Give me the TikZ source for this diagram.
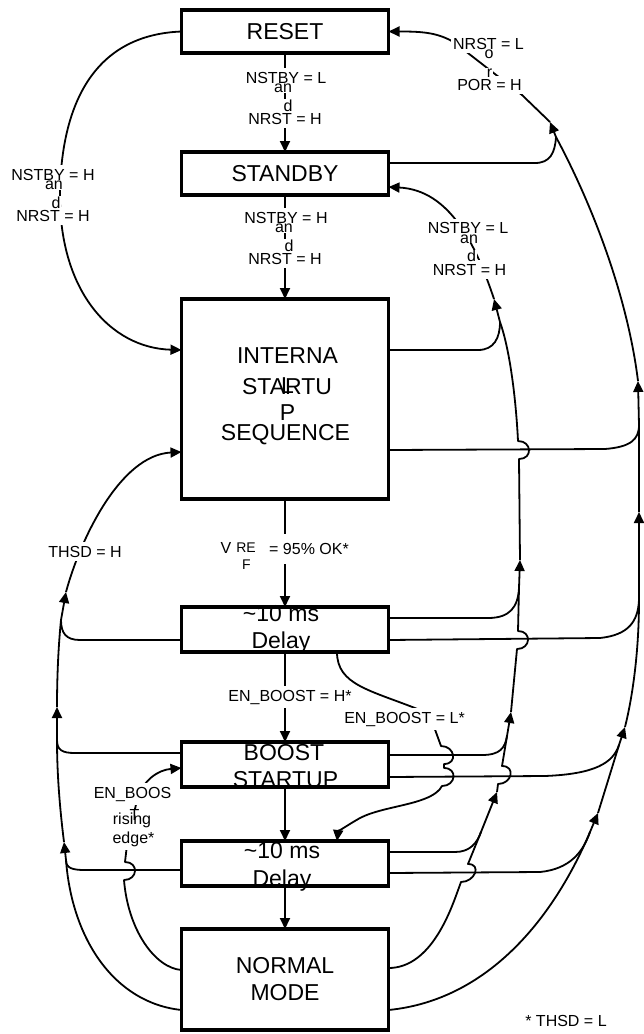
\documentclass[tikz,border=0pt]{standalone}
\usepackage{fontspec}
\setmainfont{Liberation Sans}
\usepackage{tikz}
\usetikzlibrary{arrows.meta,positioning}
\tikzset{
  estado/.style={
    draw,
    line width=3.2pt,
    outer sep=0pt,
    inner sep=0pt,
    minimum width=207pt,
    align=center,
    font=\fontsize{23}{27}\selectfont
  },
  rotulo/.style={
    anchor=base,
    inner sep=0pt,
    font=\fontsize{23}{27}\selectfont
  },
  cond/.style={
    anchor=base,
    fill=white,
    inner xsep=2pt,
    inner ysep=3.5pt,
    font=\fontsize{16}{19}\selectfont
  },
  frag/.style={
    anchor=base,
    fill=white,
    inner xsep=1pt,
    inner ysep=0pt,
    font=\fontsize{16}{19}\selectfont
  },
  wire/.style={
    line width=1.8pt,
    line join=round
  },
  arrow/.style={
    wire,
    -{Triangle[length=11pt,width=10pt]}
  }
}
\newcommand{\linehop}[4]{-- (#1,#2) .. controls (#1+14,#2) and (#3+14,#4) .. (#3,#4)}

\begin{document}
\begin{tikzpicture}[x=1pt,y=-1pt]
\useasboundingbox (0,0) rectangle (644,1034);
\node[estado,minimum height=43pt] (reset) at (285,31.5) {RESET};
\node[estado,minimum height=43pt,below=99pt of reset] (standby) {STANDBY};
\node[estado,minimum height=200pt,below=104pt of standby] (internal) {};
\node[estado,minimum height=45pt,below=108pt of internal] (delayA) {};
\node[estado,minimum height=45pt,below=90pt of delayA] (boost) {};
\node[estado,minimum height=45pt,below=54pt of boost] (delayB) {};
\node[estado,minimum height=101pt,below=43pt of delayB] (normal) {NORMAL\\MODE};

\node[rotulo] (intA) at (287.5,363) {INTERNA};
\node[rotulo] (intB) at (287,394) {STARTU};
\node[rotulo] (intL) at (287.5,393) {L};
\node[rotulo] (intP) at (287.5,420) {P};
\node[rotulo] (intC) at (285.5,440) {SEQUENCE};
\node[rotulo] (dAa) at (281,621) {\textasciitilde10 ms};
\node[rotulo] (dAb) at (281,648) {Delay};
\node[rotulo] (bsa) at (284,760) {BOOST};
\node[rotulo] (bsb) at (285.5,787) {STARTUP};
\node[rotulo] (dBa) at (282,858) {\textasciitilde10 ms};
\node[rotulo] (dBb) at (282,886) {Delay};

\coordinate (mA1) at (481,832);
\coordinate (tA1) at (497,792);
\coordinate (mA2) at (507,736);
\coordinate (tA2) at (511,712);
\coordinate (mA3) at (519,588);
\coordinate (tA3) at (520,560);
\coordinate (mA4) at (500,322);
\coordinate (tA4) at (494,299);
\coordinate (mB1) at (590,832);
\coordinate (tB1) at (598,813);
\coordinate (mB2) at (619,745);
\coordinate (tB2) at (625,727);
\coordinate (mB3) at (639,600);
\coordinate (tB3) at (639,512);
\coordinate (mB4) at (639,425);
\coordinate (tB4) at (638,381);
\coordinate (mB5) at (556,137);
\coordinate (tB5) at (550,122);
\coordinate (mC1) at (66,860);
\coordinate (tC1) at (64,842);
\coordinate (mC2) at (57,740);
\coordinate (tC2) at (57,707);
\coordinate (mC3) at (61,620);
\coordinate (tC3) at (66,592);

\draw[arrow] (reset) -- (standby);
\draw[arrow] (standby) -- (internal);
\draw[arrow] (internal) -- (delayA);
\draw[arrow] (delayA) -- (boost);
\draw[arrow] (boost) -- (delayB);
\draw[arrow] (delayB) -- (normal);
\draw[arrow] (reset.west) .. controls (90,35) and (62,110) .. (60,190) .. controls (58,290) and (110,348) .. (internal.west |- 0,350);

\draw[arrow] (normal.east |- 0,968) .. controls (428,968) and (448,918) .. (457,893) \linehop{461}{882}{468}{864} -- (mA1) -- (tA1);
\draw[wire] (delayB.east |- 0,852) -- (455,852) .. controls (470,852) and (477,843) .. (mA1);
\draw[arrow] (tA1) \linehop{498}{784}{502}{766} -- (mA2) -- (tA2);
\draw[wire] (boost.east |- 0,755) -- (482,755) .. controls (500,755) and (505,748) .. (mA2);
\draw[arrow] (tA2) \linehop{517}{649}{518}{631} -- (mA3) -- (tA3);
\draw[wire] (delayA.east |- 0,618) -- (488,618) .. controls (510,618) and (518,607) .. (mA3);
\draw[arrow] (tA3) \linehop{519}{459}{518}{441} .. controls (516,400) and (510,350) .. (mA4) -- (tA4);
\draw[wire] (internal.east |- 0,350) -- (478,350) .. controls (494,350) and (500,338) .. (mA4);
\draw[arrow] (tA4) .. controls (476,245) and (450,190) .. (standby.east |- 0,187);

\draw[arrow] (normal.east |- 0,1010) .. controls (490,1000) and (555,915) .. (mB1) -- (tB1);
\draw[wire] (delayB.east |- 0,873) -- (540,872) .. controls (570,869) and (583,852) .. (mB1);
\draw[arrow] (tB1) -- (mB2) -- (tB2);
\draw[wire] (boost.east |- 0,777) -- (545,776) .. controls (595,774) and (613,763) .. (mB2);
\draw[arrow] (tB2) .. controls (633,695) and (639,650) .. (mB3) -- (tB3);
\draw[wire] (delayA.east |- 0,640) -- (600,638) .. controls (628,635) and (638,622) .. (mB3);
\draw[arrow] (tB3) -- (mB4) -- (tB4);
\draw[wire] (internal.east |- 0,450) -- (605,449) .. controls (630,447) and (639,440) .. (mB4);
\draw[arrow] (tB4) .. controls (628,300) and (595,210) .. (mB5) -- (tB5);
\draw[wire] (standby.east |- 0,163) -- (535,163) .. controls (550,163) and (555,153) .. (mB5);
\draw[arrow] (tB5) -- (522,95) -- (455,43) .. controls (438,32) and (420,31.5) .. (reset.east);

\draw[arrow] (normal.west |- 0,1010) .. controls (115,1003) and (72,940) .. (mC1) -- (tC1);
\draw[wire] (delayB.west |- 0,870) -- (85,870) .. controls (72,870) and (66,868) .. (mC1);
\draw[arrow] (tC1) .. controls (60,810) and (57,775) .. (mC2) -- (tC2);
\draw[wire] (boost.west |- 0,753) -- (75,753) .. controls (62,753) and (57,750) .. (mC2);
\draw[arrow] (tC2) .. controls (57,670) and (59,640) .. (mC3) -- (tC3);
\draw[wire] (delayA.west |- 0,640) -- (80,640) .. controls (66,640) and (61,633) .. (mC3);
\draw[arrow] (tC3) .. controls (80,540) and (120,455) .. (internal.west |- 0,452);

\draw[arrow] (normal.west |- 0,970) .. controls (155,968) and (128,930) .. (124,880) \linehop{124}{880}{125}{862} -- (127,845) -- (137,800) .. controls (143,780) and (158,770) .. (boost.west |- 0,768);
\draw[arrow] (337,0 |- delayA.south) .. controls (337,685) and (370,690) .. (420,710) -- (433,724) \linehop{441}{746}{444}{764} \linehop{444}{768}{442}{786} .. controls (432,805) and (385,805) .. (360,818) .. controls (346,826) and (338,832) .. (337,0 |- delayB.north);

\node[cond] (rsA) at (286,83) {NSTBY = L};
\node[cond] (rsB) at (285,124.5) {NRST = H};
\node[frag] (rsC) at (283,92.5) {an};
\node[frag] (rsD) at (288,111) {d};
\node[cond] (riA) at (53,180) {NSTBY = H};
\node[cond] (riB) at (53,221.5) {NRST = H};
\node[frag] (riC) at (54,189.5) {an};
\node[frag] (riD) at (56,208) {d};
\node[cond] (siA) at (286,223) {NSTBY = H};
\node[cond] (siB) at (285,264.5) {NRST = H};
\node[frag] (siC) at (284,232.5) {an};
\node[frag] (siD) at (289,251) {d};
\node[cond] (sbA) at (468,233.5) {NSTBY = L};
\node[cond] (sbB) at (469.5,275) {NRST = H};
\node[frag] (sbC) at (469,243) {an};
\node[frag] (sbD) at (471.5,261.5) {d};
\node[cond] (rbA) at (488.5,49) {NRST = L};
\node[cond] (rbB) at (489.5,90.5) {POR = H};
\node[frag] (rbC) at (489,58.5) {o};
\node[frag] (rbD) at (489.5,77) {r};
\node[cond,minimum height=30pt] (vrB) at (309,554) {= 95\% OK*};
\node[frag] (vrA) at (226,553) {V};
\node[frag,font=\fontsize{14}{16}\selectfont] (vrC) at (246,552) {RE};
\node[frag,font=\fontsize{14}{16}\selectfont] (vrD) at (246.5,569) {F};
\node[cond] (thsd) at (85,557) {THSD = H};
\node[cond] (enH) at (290,701) {EN\_BOOST = H*};
\node[cond] (enL) at (404.5,723) {EN\_BOOST = L*};
\node[cond] (erA) at (132.5,798) {EN\_BOOS};
\node[cond] (erC) at (132,824) {rising};
\node[cond] (erD) at (133.5,843) {edge*};
\node[frag,fill=none] (erB) at (134.5,820) {T};
\node[frag] (note) at (566,1026) {* THSD = L};
\end{tikzpicture}
\end{document}
